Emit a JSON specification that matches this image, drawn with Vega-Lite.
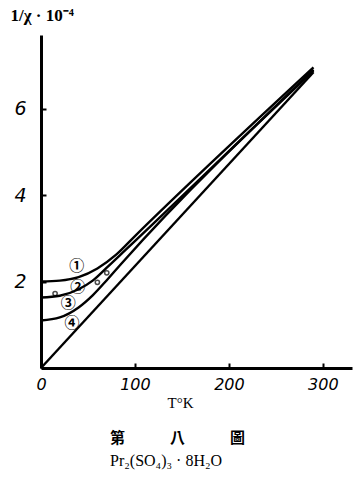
{
  "$schema": "https://vega.github.io/schema/vega-lite/v6.json",
  "autosize": {"type": "none"},
  "width": 311,
  "height": 333,
  "padding": {"left": 41, "top": 35, "right": 6, "bottom": 109},
  "background": "white",
  "config": {"view": {"stroke": null}},
  "title": {
    "text": "第　　　八　　　圖",
    "subtitle": "Pr₂(SO₄)₃ · 8H₂O",
    "orient": "bottom",
    "anchor": "start",
    "dx": 100,
    "offset": 21,
    "font": "Noto Sans CJK TC",
    "fontSize": 15,
    "fontWeight": "bold",
    "color": "black",
    "subtitleFont": "Liberation Serif",
    "subtitleFontSize": 16,
    "subtitleColor": "black",
    "subtitlePadding": 7
  },
  "datasets": {
    "curves": [
      {"T": 0, "v": 2.0, "c": "1"}, {"T": 20, "v": 2.02, "c": "1"}, {"T": 40, "v": 2.1, "c": "1"}, {"T": 60, "v": 2.3, "c": "1"}, {"T": 80, "v": 2.62, "c": "1"}, {"T": 100, "v": 3.05, "c": "1"}, {"T": 290, "v": 6.95, "c": "1"},
      {"T": 0, "v": 1.63, "c": "2"}, {"T": 20, "v": 1.67, "c": "2"}, {"T": 40, "v": 1.82, "c": "2"}, {"T": 55, "v": 2.02, "c": "2"}, {"T": 70, "v": 2.32, "c": "2"}, {"T": 90, "v": 2.73, "c": "2"}, {"T": 290, "v": 6.9, "c": "2"},
      {"T": 0, "v": 1.1, "c": "3"}, {"T": 20, "v": 1.17, "c": "3"}, {"T": 40, "v": 1.4, "c": "3"}, {"T": 55, "v": 1.68, "c": "3"}, {"T": 70, "v": 2.03, "c": "3"}, {"T": 85, "v": 2.4, "c": "3"}, {"T": 290, "v": 6.87, "c": "3"},
      {"T": 0, "v": 0, "c": "4"}, {"T": 290, "v": 6.84, "c": "4"}
    ],
    "labels": [
      {"T": 38, "v": 2.36, "t": "①"},
      {"T": 39, "v": 1.88, "t": "②"},
      {"T": 29, "v": 1.5, "t": "③"},
      {"T": 33, "v": 1.04, "t": "④"}
    ],
    "points": [
      {"T": 15, "v": 1.72},
      {"T": 60, "v": 1.98},
      {"T": 70, "v": 2.2}
    ]
  },
  "layer": [
    {
      "data": {"name": "curves"},
      "mark": {"type": "line", "interpolate": "monotone", "color": "black", "strokeWidth": 2.4},
      "encoding": {
        "x": {
          "field": "T", "type": "quantitative",
          "scale": {"domain": [0, 331], "nice": false, "zero": false},
          "axis": {
            "values": [0, 100, 200, 300],
            "title": "T°K",
            "titleFont": "Liberation Serif",
            "titleFontSize": 15,
            "titleFontWeight": "normal",
            "titleColor": "black",
            "titleX": 139,
            "titlePadding": 3,
            "grid": false,
            "domainColor": "black",
            "domainWidth": 3,
            "tickColor": "black",
            "tickWidth": 2,
            "tickSize": -5,
            "labelPadding": 13,
            "labelFont": "DejaVu Sans",
            "labelFontStyle": "italic",
            "labelFontSize": 16,
            "labelColor": "black",
            "labelFlush": false
          }
        },
        "y": {
          "field": "v", "type": "quantitative",
          "scale": {"domain": [0, 7.7], "nice": false},
          "axis": {
            "values": [2, 4, 6],
            "title": "1/χ · 10⁻⁴",
            "titleAngle": 0,
            "titleAlign": "left",
            "titleBaseline": "middle",
            "titleX": -31,
            "titleY": -20,
            "titleFont": "Liberation Serif",
            "titleFontSize": 17,
            "titleFontWeight": "bold",
            "titleColor": "black",
            "grid": false,
            "domainColor": "black",
            "domainWidth": 3,
            "tickColor": "black",
            "tickWidth": 2,
            "tickSize": -5,
            "labelPadding": 20,
            "labelFont": "DejaVu Sans",
            "labelFontStyle": "italic",
            "labelFontSize": 19,
            "labelColor": "black",
            "labelBaseline": "middle"
          }
        },
        "detail": {"field": "c"}
      }
    },
    {
      "data": {"name": "labels"},
      "mark": {"type": "text", "font": "Noto Sans CJK SC", "fontSize": 15, "fontWeight": "bold", "color": "black"},
      "encoding": {
        "x": {"field": "T", "type": "quantitative"},
        "y": {"field": "v", "type": "quantitative"},
        "text": {"field": "t"}
      }
    },
    {
      "data": {"name": "points"},
      "mark": {"type": "point", "shape": "circle", "filled": false, "size": 18, "color": "black", "strokeWidth": 1.5},
      "encoding": {
        "x": {"field": "T", "type": "quantitative"},
        "y": {"field": "v", "type": "quantitative"}
      }
    }
  ]
}
